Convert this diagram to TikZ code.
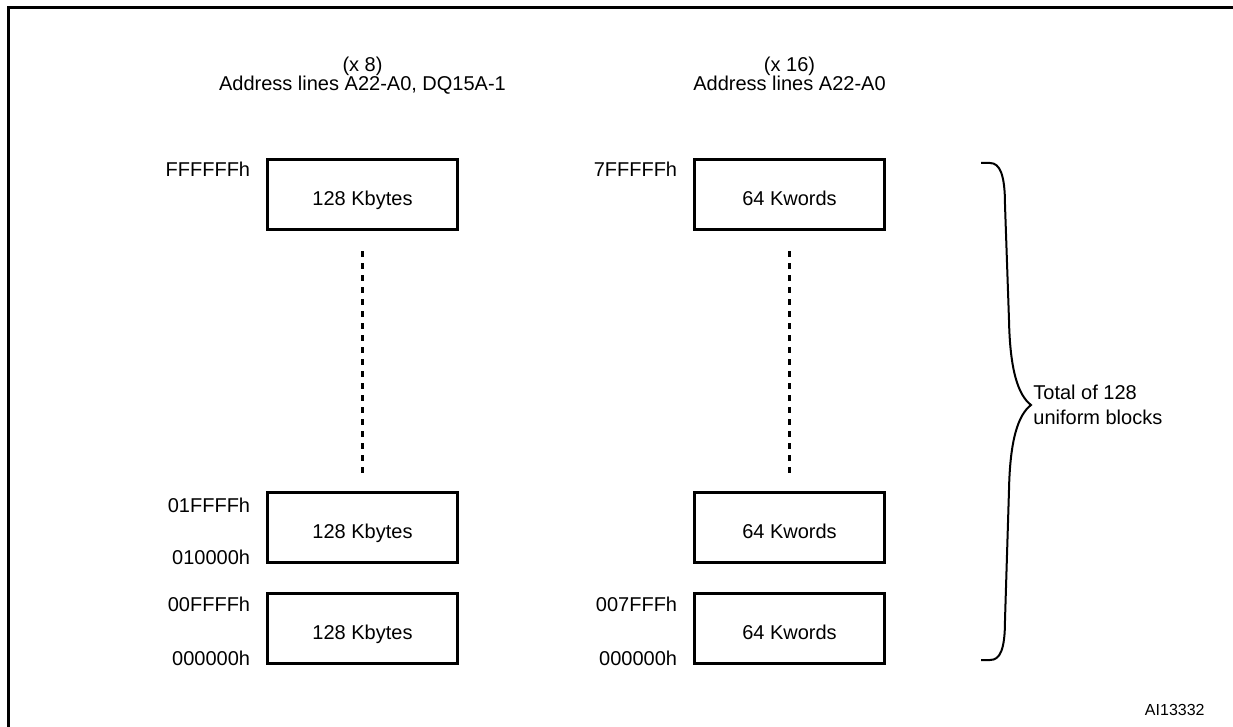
\documentclass[tikz,border=0pt]{standalone}
\usepackage{fontspec}
\setmainfont{Liberation Sans}
\usetikzlibrary{positioning}
\tikzset{
  block/.style={draw, line width=1.5pt, minimum width=95pt, minimum height=35pt,
    text height=11pt, text depth=0pt, inner sep=0pt},
  addr/.style={anchor=base east, inner sep=0pt},
  head/.style={anchor=base, inner sep=0pt},
  dots/.style={line width=1.2pt, dash pattern=on 3pt off 3pt},
  brace/.style={line width=1pt},
}
\begin{document}
\begin{tikzpicture}[x=0.5pt,y=-0.5pt,font=\fontsize{10}{12.5}\selectfont]
\useasboundingbox (0,0) rectangle (1233,727);
% frame
\draw[line width=1.5pt] (8,745) -- (8,8) -- (1245,8);
% x8 column
\node[head] (h8) at (362.5,72) {(x 8)};
\node[head] (h8a) at (362.5,91) {Address lines A22-A0, DQ15A-1};
\node[block] (k1) at (362.5,194.5) {128 Kbytes};
\node[block] (k2) at (362.5,527.5) {128 Kbytes};
\node[block, below=14pt of k2] (k3) {128 Kbytes};
\node[addr] (a1) at ([xshift=-7.75pt,yshift=-9.5pt]k1.north west) {FFFFFFh};
\node[addr] (a2) at ([xshift=-7.75pt,yshift=-11pt]k2.north west) {01FFFFh};
\node[addr] (a3) at ([xshift=-7.75pt]k2.south west) {010000h};
\node[addr] (a4) at ([xshift=-7.75pt,yshift=-9.5pt]k3.north west) {00FFFFh};
\node[addr] (a5) at ([xshift=-7.75pt]k3.south west) {000000h};
\draw[dots] ([yshift=-10.25pt]k1.south) -- ([yshift=7.75pt]k2.north);
% x16 column
\node[head] (h16) at (789.5,72) {(x 16)};
\node[head] (h16a) at (789.5,91) {Address lines A22-A0};
\node[block, right=117pt of k1] (w1) {64 Kwords};
\node[block, right=117pt of k2] (w2) {64 Kwords};
\node[block, right=117pt of k3] (w3) {64 Kwords};
\node[addr] (b1) at ([xshift=-7.75pt,yshift=-9.5pt]w1.north west) {7FFFFFh};
\node[addr] (b4) at ([xshift=-7.75pt,yshift=-9.5pt]w3.north west) {007FFFh};
\node[addr] (b5) at ([xshift=-7.75pt]w3.south west) {000000h};
\draw[dots] ([yshift=-10.25pt]w1.south) -- ([yshift=7.75pt]w2.north);
% brace
\coordinate (tip) at (1031,405);
\draw[brace] (981,163) -- (990,163) .. controls (1000,163) and (1005,175) .. (1005,205)
  -- (1009,320) .. controls (1010,370) and (1018,395) .. (tip)
  .. controls (1018,415) and (1010,440) .. (1009,490)
  -- (1005,620) .. controls (1005,650) and (1000,660) .. (990,660) -- (981,660);
\node[anchor=west, align=left, inner sep=0pt] (tot) at ([xshift=1pt]tip) {Total of 128\\uniform blocks};
\node[addr, font=\fontsize{8}{10}\selectfont] (ai) at (1205,715) {AI13332};
\end{tikzpicture}
\end{document}
